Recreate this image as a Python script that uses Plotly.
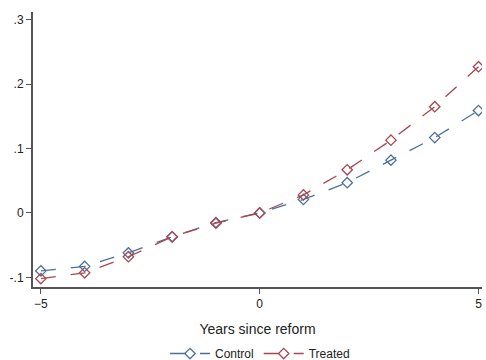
import plotly.graph_objects as go

years = [-5, -4, -3, -2, -1, 0, 1, 2, 3, 4, 5]
control = [-0.090, -0.083, -0.062, -0.037, -0.015, 0.0, 0.021, 0.047, 0.082, 0.117, 0.159]
treated = [-0.102, -0.093, -0.068, -0.037, -0.016, 0.0, 0.028, 0.067, 0.113, 0.165, 0.227]

y_tickvals = [-0.1, 0, 0.1, 0.2, 0.3]
y_ticktext = ["-.1", "0", ".1", ".2", ".3"]
x_tickvals = [-5, 0, 5]

BLUE = "#4a719b"
RED = "#a9474f"

fig = go.Figure()
for name, vals, col in [("Control", control, BLUE), ("Treated", treated, RED)]:
    fig.add_trace(go.Scatter(
        x=years, y=vals, name=name, mode="lines+markers",
        line=dict(color=col, width=1.3, dash="longdash"),
        marker=dict(symbol="diamond-open", size=8, color=col, line=dict(width=1.3, color=col)),
    ))

fig.update_layout(
    width=486, height=360,
    margin=dict(l=33, r=4, t=12, b=73, autoexpand=False),
    paper_bgcolor="white", plot_bgcolor="white",
    font=dict(family="Liberation Sans, Arial, sans-serif", size=12, color="#222"),
    showlegend=True,
    legend=dict(orientation="h", x=0.535, xanchor="center", xref="container",
                y=0.018, yanchor="middle", yref="container",
                font=dict(size=12), itemwidth=40),
    xaxis=dict(
        range=[-5.18, 5.08], tickvals=x_tickvals, showgrid=False, zeroline=False,
        showline=True, linecolor="#555", linewidth=2, ticks="outside", ticklen=5,
        tickcolor="#555", title=dict(text="Years since reform", standoff=14),
        automargin=False,
    ),
    yaxis=dict(
        range=[-0.115, 0.312], tickvals=y_tickvals, ticktext=y_ticktext,
        showgrid=False, zeroline=False, showline=True, linecolor="#555", linewidth=2,
        ticks="outside", ticklen=5, tickcolor="#555", automargin=False,
    ),
)

fig.write_html("out.html")
